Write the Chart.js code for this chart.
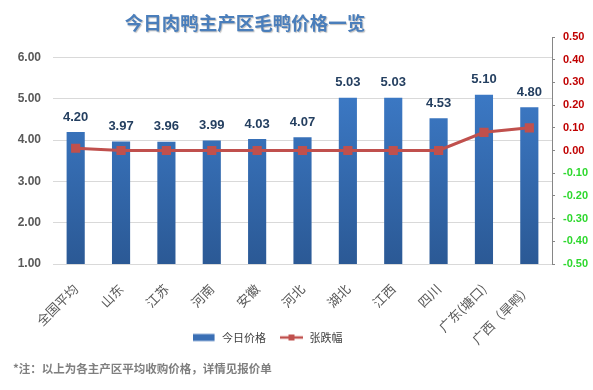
<!DOCTYPE html>
<html><head><meta charset="utf-8">
<script src="https://cdn.jsdelivr.net/npm/chart.js@4/dist/chart.umd.min.js"></script>
<style>
html,body{margin:0;padding:0;background:#fff;}
#wrap{position:relative;width:593px;height:390px;overflow:hidden;background:#fff;}
#title{position:absolute;left:0;width:490px;top:9px;text-align:center;font:bold 18.5px "Noto Sans CJK SC";color:#4a7ebb;text-shadow:1px 1px 1px rgba(0,0,0,0.25);white-space:nowrap;}
#note{position:absolute;left:13px;top:360px;font:bold 11.5px "Noto Sans CJK SC";color:#7f7f7f;white-space:nowrap;}
canvas{position:absolute;left:0;top:0;}
</style></head>
<body><div id="wrap"><canvas id="c" width="593" height="390"></canvas><div id="title">今日肉鸭主产区毛鸭价格一览</div><div id="note">*注：以上为各主产区平均收购价格，详情见报价单</div></div>
<script>
const categories = ['全国平均','山东','江苏','河南','安徽','河北','湖北','江西','四川','广东(塘口)','广西（旱鸭）'];
const priceValues = [4.20,3.97,3.96,3.99,4.03,4.07,5.03,5.03,4.53,5.10,4.80];
const changeValues = [0.01,0.00,0.00,0.00,0.00,0.00,0.00,0.00,0.00,0.08,0.10];
const seriesNames = ['今日价格','张跌幅'];

const BAR_COLOR = '#3a6fb5';
const LINE_COLOR = '#c0504d';

function barGradient(context){
  const chart = context.chart; const area = chart.chartArea;
  if(!area) return BAR_COLOR;
  const g = chart.ctx.createLinearGradient(0, area.top, 0, area.bottom);
  g.addColorStop(0,'#4183d4'); g.addColorStop(1,'#2b5995');
  return g;
}
function makeIcon(kind){
  const c = document.createElement('canvas'); c.width = 24; c.height = 10;
  const g = c.getContext('2d');
  if(kind === 'bar'){ g.fillStyle = BAR_COLOR; g.fillRect(0,1.5,22,7); }
  else { g.strokeStyle = LINE_COLOR; g.lineWidth = 2.5; g.beginPath(); g.moveTo(0,5); g.lineTo(23,5); g.stroke(); g.fillStyle = LINE_COLOR; g.fillRect(8.5,2,6,6); }
  return c;
}
const icons = [makeIcon('bar'), makeIcon('line')];

const valueLabels = {
  id:'valueLabels',
  afterDatasetsDraw(chart){
    const meta = chart.getDatasetMeta(1);
    const c = chart.ctx; c.save();
    c.font = 'bold 13px "Liberation Sans"'; c.fillStyle = '#243f60';
    c.textAlign = 'center'; c.textBaseline = 'middle';
    meta.data.forEach((bar,i)=>{ c.fillText(priceValues[i].toFixed(2), bar.x, bar.y - 15); });
    c.restore();
  }
};
const legendShift = {
  id:'legendShift',
  afterLayout(chart){
    const L = chart.legend; if(!L) return;
    const dx = -29; L.left += dx; L.right += dx;
    const dy = 318 - L.top; L.top += dy; L.bottom += dy;
  }
};

new Chart(document.getElementById('c'), {
  data:{
    labels: categories,
    datasets:[
      { type:'line', label: seriesNames[1], data: changeValues, yAxisID:'y1', order:0,
        borderColor: LINE_COLOR, borderWidth:3, tension:0,
        pointStyle:'rect', pointRadius:6.5, pointHoverRadius:6.5,
        pointBackgroundColor: LINE_COLOR, pointBorderColor: LINE_COLOR, pointBorderWidth:0 },
      { type:'bar', label: seriesNames[0], data: priceValues, yAxisID:'y', order:1,
        backgroundColor: barGradient, barPercentage:0.4, categoryPercentage:1 }
    ]
  },
  options:{
    responsive:false, animation:false,
    layout:{ padding:{ top:37, left:0, right:0, bottom:0 } },
    plugins:{
      tooltip:{enabled:false},
      legend:{ position:'bottom',
        labels:{ usePointStyle:true, pointStyleWidth:24, padding:14, color:'#404040',
          font:{ size:11, family:'"Noto Sans CJK SC"' },
          generateLabels:(chart)=>{
            const order = [1,0];
            return order.map((di,k)=>({ text: chart.data.datasets[di].label, pointStyle: icons[k],
              fillStyle:'#000', strokeStyle:'rgba(0,0,0,0)', lineWidth:0, hidden:false, datasetIndex:di, fontColor:'#404040' }));
          } } }
    },
    scales:{
      x:{ grid:{display:false, drawTicks:false}, border:{display:false},
        ticks:{ minRotation:45, maxRotation:45, autoSkip:false, color:'#595959', padding:17,
          font:{ size:13, family:'"Noto Sans CJK SC"' } },
        afterFit(s){ const lh = s.chart.legend ? s.chart.legend.height : 0; s.height = 126 - lh; } },
      y:{ position:'left', min:1, max:6.5,
        ticks:{ stepSize:1, color:'#595959', padding:12, font:{ size:12, weight:'bold', family:'"Liberation Sans"' },
          callback:(v)=> v > 6.01 ? '' : Number(v).toFixed(2) },
        grid:{ drawTicks:false, color:(c)=> (c.tick && c.tick.value > 6.01) ? 'rgba(0,0,0,0)' : '#d9d9d9' },
        border:{display:false},
        afterFit(s){ s.width = 53; } },
      y1:{ position:'right', min:-0.5, max:0.5,
        ticks:{ stepSize:0.1, autoSkip:false, padding:8, font:{ size:11, weight:'bold', family:'"Liberation Sans"' },
          color:(c)=> c.tick.value > -1e-9 ? '#c00000' : '#2ed82e',
          callback:(v)=> Math.abs(v) < 1e-9 ? '0.00' : Number(v).toFixed(2) },
        grid:{ drawOnChartArea:false, drawTicks:true, tickLength:3, color:'#868686' },
        border:{ display:true, color:'#868686' },
        afterFit(s){ s.width = 41; } }
    }
  },
  plugins:[valueLabels, legendShift]
});
</script>
</body></html>
